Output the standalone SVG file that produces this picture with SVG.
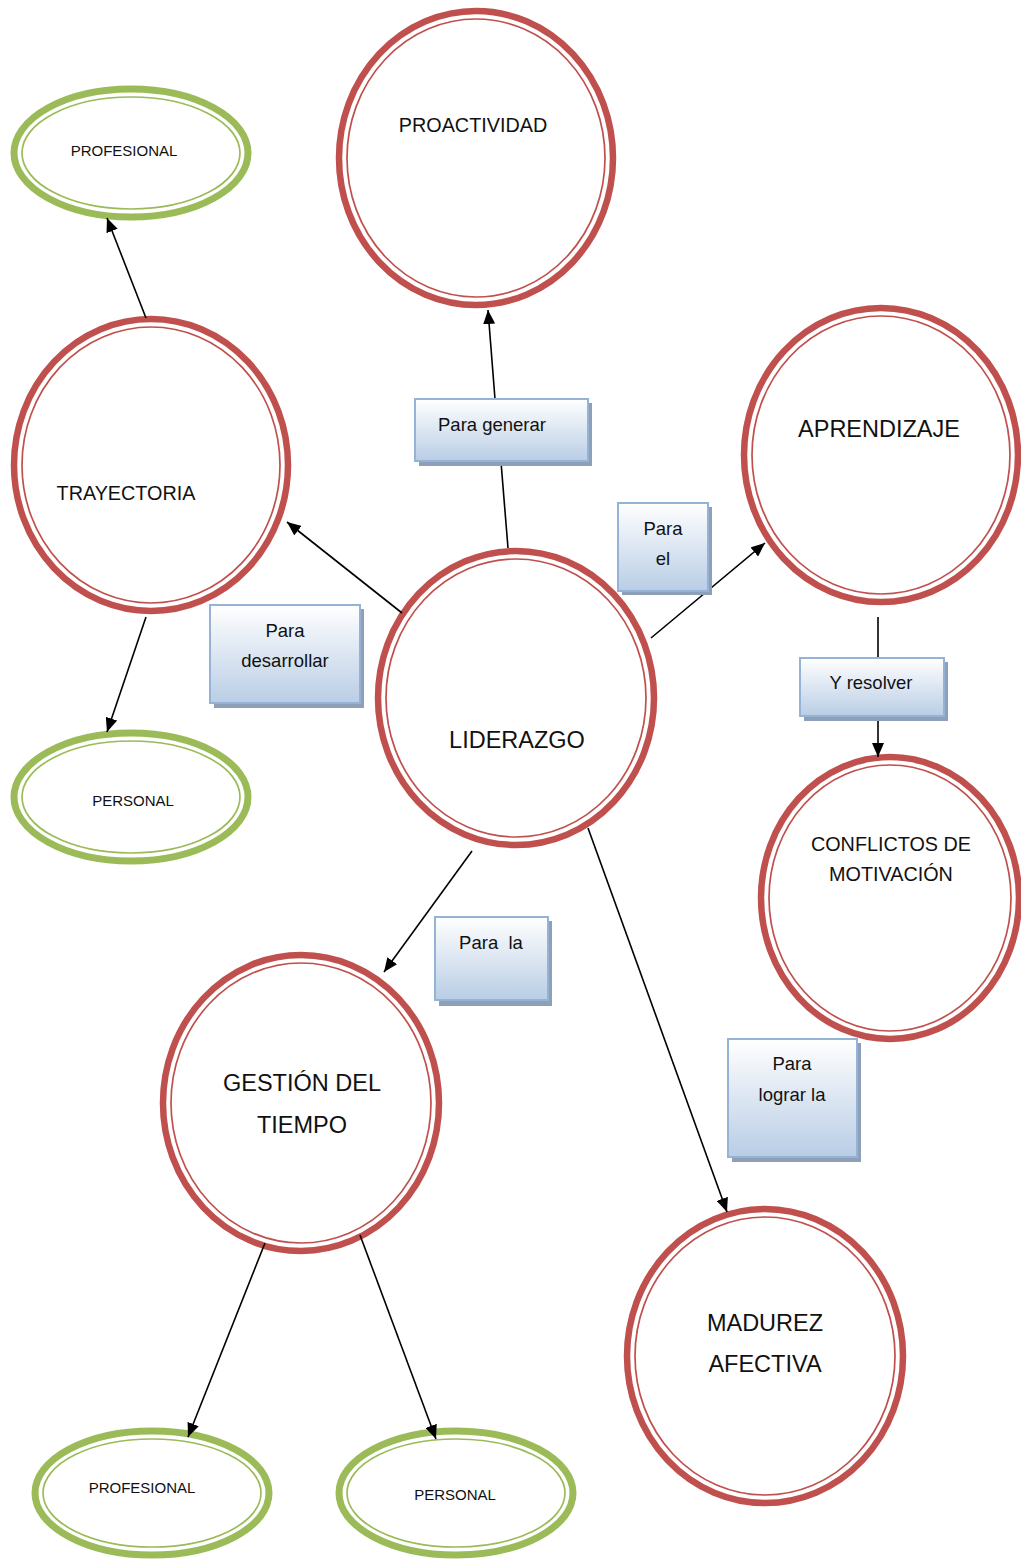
<svg xmlns="http://www.w3.org/2000/svg" width="1021" height="1559" viewBox="0 0 1021 1559">
<style>
.ro{fill:#fff;stroke:#C0504D;stroke-width:6.5}
.ri{fill:none;stroke:#C0504D;stroke-width:1.7}
.go{fill:#fff;stroke:#9BBB59;stroke-width:7}
.gi{fill:none;stroke:#9BBB59;stroke-width:1.7}
.box{fill:url(#bg);stroke:#95B3D7;stroke-width:2}
.sh{fill:#8EA0B8}
text{font-family:"Liberation Sans",Arial,sans-serif;fill:#111;text-anchor:middle}
.big{font-size:23.5px}
.mid{font-size:19.8px}
.sm{font-size:15px}
.lb{font-size:18.5px}
.c line{stroke:#000;stroke-width:1.6}
</style>
<defs>
<linearGradient id="bg" x1="0" y1="0" x2="0" y2="1">
<stop offset="0" stop-color="#FFFFFF"/>
<stop offset="1" stop-color="#B9CDE5"/>
</linearGradient>
<marker id="ah" markerWidth="14" markerHeight="12" refX="14" refY="6" orient="auto" markerUnits="userSpaceOnUse">
<path d="M0,0 L14,6 L0,12 Z" fill="#000"/>
</marker>
</defs>

<g id="proactividad">
<ellipse class="ro" cx="476" cy="158" rx="137" ry="147"/>
<ellipse class="ri" cx="476" cy="158" rx="129" ry="139"/>
<text class="mid" x="473" y="132">PROACTIVIDAD</text>
</g>
<g id="trayectoria">
<ellipse class="ro" cx="151" cy="465" rx="137" ry="146"/>
<ellipse class="ri" cx="151" cy="465" rx="129" ry="138"/>
<text class="mid" x="126" y="500">TRAYECTORIA</text>
</g>
<g id="aprendizaje">
<ellipse class="ro" cx="881" cy="455" rx="137" ry="147"/>
<ellipse class="ri" cx="881" cy="455" rx="129" ry="139"/>
<text class="big" x="879" y="437">APRENDIZAJE</text>
</g>
<g id="liderazgo">
<ellipse class="ro" cx="516" cy="698" rx="138" ry="147"/>
<ellipse class="ri" cx="516" cy="698" rx="130" ry="139"/>
<text class="big" x="517" y="748">LIDERAZGO</text>
</g>
<g id="conflictos">
<ellipse class="ro" cx="890" cy="898" rx="129" ry="141"/>
<ellipse class="ri" cx="890" cy="898" rx="121" ry="133"/>
<text class="mid" x="891" y="851">CONFLICTOS DE</text>
<text class="mid" x="891" y="881">MOTIVACIÓN</text>
</g>
<g id="gestion">
<ellipse class="ro" cx="301" cy="1103" rx="138" ry="148"/>
<ellipse class="ri" cx="301" cy="1103" rx="130" ry="140"/>
<text class="big" x="302" y="1091">GESTIÓN DEL</text>
<text class="big" x="302" y="1133">TIEMPO</text>
</g>
<g id="madurez">
<ellipse class="ro" cx="765" cy="1356" rx="138" ry="147"/>
<ellipse class="ri" cx="765" cy="1356" rx="130" ry="139"/>
<text class="big" x="765" y="1331">MADUREZ</text>
<text class="big" x="765" y="1372">AFECTIVA</text>
</g>

<g id="profesional1">
<ellipse class="go" cx="131" cy="153" rx="117" ry="64"/>
<ellipse class="gi" cx="131" cy="153" rx="109" ry="56"/>
<text class="sm" x="124" y="156">PROFESIONAL</text>
</g>
<g id="personal1">
<ellipse class="go" cx="131" cy="797" rx="117" ry="64"/>
<ellipse class="gi" cx="131" cy="797" rx="109" ry="56"/>
<text class="sm" x="133" y="806">PERSONAL</text>
</g>
<g id="profesional2">
<ellipse class="go" cx="152" cy="1493" rx="117" ry="62"/>
<ellipse class="gi" cx="152" cy="1493" rx="109" ry="54"/>
<text class="sm" x="142" y="1493">PROFESIONAL</text>
</g>
<g id="personal2">
<ellipse class="go" cx="456" cy="1493" rx="117" ry="62"/>
<ellipse class="gi" cx="456" cy="1493" rx="109" ry="54"/>
<text class="sm" x="455" y="1500">PERSONAL</text>
</g>

<g class="c" id="connectors">
<line x1="508" y1="548" x2="501" y2="462"/>
<line x1="495" y1="399" x2="488" y2="310" marker-end="url(#ah)"/>
<line x1="402" y1="613" x2="287" y2="522" marker-end="url(#ah)"/>
<line x1="651" y1="638" x2="765" y2="543" marker-end="url(#ah)"/>
<line x1="878" y1="617" x2="878" y2="658"/>
<line x1="878" y1="716" x2="878" y2="757" marker-end="url(#ah)"/>
<line x1="472" y1="851" x2="384" y2="972" marker-end="url(#ah)"/>
<line x1="588" y1="828" x2="727" y2="1212" marker-end="url(#ah)"/>
<line x1="146" y1="318" x2="107" y2="218" marker-end="url(#ah)"/>
<line x1="146" y1="617" x2="107" y2="732" marker-end="url(#ah)"/>
<line x1="265" y1="1243" x2="188" y2="1437" marker-end="url(#ah)"/>
<line x1="360" y1="1235" x2="436" y2="1439" marker-end="url(#ah)"/>
</g>

<g id="lbl-generar">
<rect class="sh" x="419" y="403" width="173" height="63"/>
<rect class="box" x="415" y="399" width="173" height="62"/>
<text class="lb" x="492" y="431">Para generar</text>
</g>
<g id="lbl-el">
<rect class="sh" x="622" y="507" width="90" height="88"/>
<rect class="box" x="618" y="503" width="90" height="88"/>
<text class="lb" x="663" y="535">Para</text>
<text class="lb" x="663" y="565">el</text>
</g>
<g id="lbl-desarrollar">
<rect class="sh" x="214" y="609" width="150" height="99"/>
<rect class="box" x="210" y="605" width="150" height="98"/>
<text class="lb" x="285" y="637">Para</text>
<text class="lb" x="285" y="667">desarrollar</text>
</g>
<g id="lbl-resolver">
<rect class="sh" x="804" y="662" width="144" height="59"/>
<rect class="box" x="800" y="658" width="144" height="58"/>
<text class="lb" x="871" y="689">Y resolver</text>
</g>
<g id="lbl-la">
<rect class="sh" x="439" y="921" width="113" height="85"/>
<rect class="box" x="435" y="917" width="113" height="83"/>
<text class="lb" x="491" y="949" style="white-space:pre">Para  la</text>
</g>
<g id="lbl-lograr">
<rect class="sh" x="732" y="1043" width="129" height="119"/>
<rect class="box" x="728" y="1039" width="129" height="118"/>
<text class="lb" x="792" y="1070">Para</text>
<text class="lb" x="792" y="1101">lograr la</text>
</g>
</svg>
